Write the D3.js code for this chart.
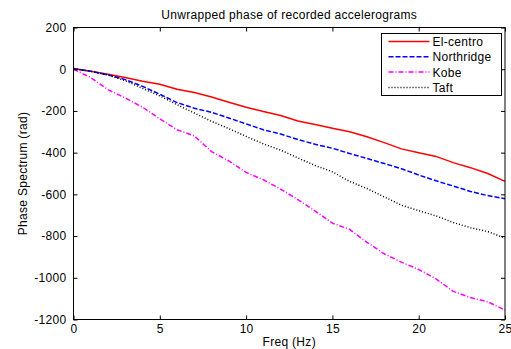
<!DOCTYPE html>
<html>
<head>
<meta charset="utf-8">
<script src="https://cdn.jsdelivr.net/npm/d3@7"></script>
<style>
  body { margin: 0; background: #fff; }
  svg { display: block; font-family: "Liberation Sans", Arial, sans-serif; }
  text { letter-spacing: 0.3px; }
</style>
</head>
<body>
<div id="chart"></div>
<script>
// frequency grid (Hz)
const freq = [0,1,2,3,4,5,6,7,8,9,10,11,12,13,14,15,16,17,18,19,20,21,22,23,24,25]

// unwrapped phase (rad)
const elcentro = [3,-10,-24,-40,-58,-72,-96,-112,-133,-158,-182,-203,-222,-248,-265,-283,-300,-324,-352,-382,-400,-418,-448,-472,-500,-538]
const northridge = [2,-10,-27,-50,-82,-120,-160,-187,-207,-234,-262,-290,-311,-337,-360,-379,-404,-428,-452,-477,-507,-535,-560,-586,-606,-621]
const kobe = [0,-40,-98,-138,-182,-238,-290,-320,-395,-440,-495,-530,-575,-625,-680,-738,-768,-830,-885,-925,-960,-1005,-1065,-1095,-1115,-1155]
const taft = [2,-10,-28,-55,-92,-128,-170,-210,-250,-285,-322,-358,-388,-425,-462,-492,-538,-572,-612,-652,-678,-703,-735,-760,-778,-810]

const seriesNames = ["El-centro", "Northridge", "Kobe", "Taft"]
const seriesValues = [elcentro, northridge, kobe, taft]
const seriesColors = ["#ff0000", "#0000ff", "#ff00ff", "#000000"]
const seriesDash = [null, "5,2", "5,2,1,2", "1,2"]

const xTicks = [0,5,10,15,20,25]
const yTicks = [200,0,-200,-400,-600,-800,-1000,-1200]

const W = 511, H = 349
const margin = {top: 27.5, right: 6, bottom: 29.5, left: 73.5}
const width = W - margin.left - margin.right
const height = H - margin.top - margin.bottom

var svg = d3.select("#chart")
  .append("svg")
  .attr("width", W)
  .attr("height", H)

var g = svg.append("g")
  .attr("transform", "translate(" + margin.left + "," + margin.top + ")")

var x = d3.scaleLinear().domain([0, 25]).range([0, width])
var y = d3.scaleLinear().domain([-1200, 200]).range([height, 0])

// data lines
var line = d3.line()
  .x(function(d){ return x(d[0]) })
  .y(function(d){ return y(d[1]) })

seriesValues.forEach(function(vals, i){
  g.append("path")
    .datum(freq.map(function(f, j){ return [f, vals[j]] }))
    .attr("fill", "none")
    .attr("stroke", seriesColors[i])
    .attr("stroke-width", 1.5)
    .attr("stroke-dasharray", seriesDash[i])
    .attr("d", line)
})

// axes, ticks pointing inwards like matlab
var plain = function(d){ return String(d) }
function styleAxis(sel){
  sel.select(".domain").remove()
  sel.selectAll(".tick line").attr("stroke", "#000")
  sel.selectAll(".tick text").attr("fill", "#000").style("font-size", "12px")
}

g.append("g")
  .attr("transform", "translate(0," + height + ")")
  .call(d3.axisBottom(x).tickValues(xTicks).tickFormat(plain).tickSizeInner(-4).tickPadding(5))
  .call(styleAxis)

g.append("g")
  .call(d3.axisTop(x).tickValues(xTicks).tickSizeInner(-4).tickFormat(""))
  .call(styleAxis)

g.append("g")
  .call(d3.axisLeft(y).tickValues(yTicks).tickFormat(plain).tickSizeInner(-4).tickPadding(7))
  .call(styleAxis)

g.append("g")
  .attr("transform", "translate(" + width + ",0)")
  .call(d3.axisRight(y).tickValues(yTicks).tickSizeInner(-4).tickFormat(""))
  .call(styleAxis)

// box
g.append("rect")
  .attr("width", width)
  .attr("height", height)
  .attr("fill", "none")
  .attr("stroke", "#000")
  .attr("stroke-width", 1)

// title and labels
svg.append("text")
  .attr("x", margin.left + width / 2)
  .attr("y", 19)
  .attr("text-anchor", "middle")
  .style("font-size", "12px")
  .text("Unwrapped phase of recorded accelerograms")

svg.append("text")
  .attr("x", margin.left + width / 2)
  .attr("y", 345.5)
  .attr("text-anchor", "middle")
  .style("font-size", "12px")
  .text("Freq (Hz)")

svg.append("text")
  .attr("transform", "translate(27," + (margin.top + height / 2) + ") rotate(-90)")
  .attr("text-anchor", "middle")
  .style("font-size", "12px")
  .text("Phase Spectrum (rad)")

// legend
var lg = svg.append("g").attr("transform", "translate(381.5,33.5)")
lg.append("rect")
  .attr("width", 120)
  .attr("height", 62)
  .attr("fill", "#fff")
  .attr("stroke", "#000")

seriesNames.forEach(function(name, i){
  var yy = 8 + i * 15.3
  lg.append("line")
    .attr("x1", 7).attr("x2", 48)
    .attr("y1", yy).attr("y2", yy)
    .attr("stroke", seriesColors[i])
    .attr("stroke-width", 1.5)
    .attr("stroke-dasharray", seriesDash[i])
  lg.append("text")
    .attr("x", 51)
    .attr("y", yy + 4.5)
    .style("font-size", "12px")
    .text(name)
})
</script>
</body>
</html>
